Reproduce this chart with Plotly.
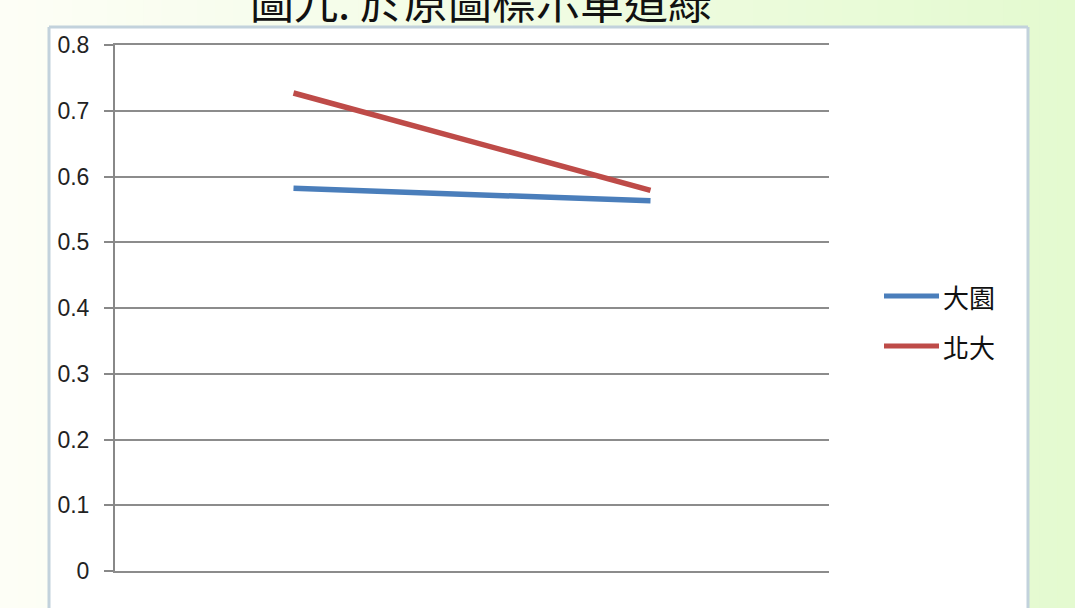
import plotly.graph_objects as go

# Two survey rounds, one line per school
periods = [0, 1]
series_names = ["大園", "北大"]
series_values = [
    [0.582, 0.563],
    [0.727, 0.579],
]
series_colors = ["#4A7EBB", "#BE4B48"]
y_ticks = [0, 0.1, 0.2, 0.3, 0.4, 0.5, 0.6, 0.7, 0.8]
title_text = "圖九. 於原圖標示單道綠"

W, H = 1075, 608

fig = go.Figure()
for name, vals, col in zip(series_names, series_values, series_colors):
    fig.add_trace(go.Scatter(
        x=periods, y=vals, mode="lines", name=name,
        line=dict(color=col, width=5.5), showlegend=False,
    ))

shapes = []

# soft green slide background, fading to the right
n_strips = 60
c0 = (253, 254, 246)
c1 = (228, 250, 208)
for i in range(n_strips):
    t = i / (n_strips - 1)
    c = tuple(round(a + (b - a) * t) for a, b in zip(c0, c1))
    shapes.append(dict(
        type="rect", xref="paper", yref="paper", layer="below",
        x0=i / n_strips, x1=min(1.0, (i + 1) / n_strips + 0.001), y0=0, y1=1,
        fillcolor="rgb(%d,%d,%d)" % c, line=dict(width=0),
    ))

# white chart area with a pale frame on three sides
fx0, fx1, fy1 = 49 / W, 1028 / W, 1 - 27 / H
shapes.append(dict(
    type="rect", xref="paper", yref="paper", layer="below",
    x0=fx0, x1=fx1, y0=0, y1=fy1,
    fillcolor="white", line=dict(width=0),
))
frame_line = dict(color="#C2D2DC", width=3)
for x0, y0, x1, y1 in [(fx0, 0, fx0, fy1), (fx0, fy1, fx1, fy1), (fx1, 0, fx1, fy1)]:
    shapes.append(dict(
        type="line", xref="paper", yref="paper", layer="below",
        x0=x0, y0=y0, x1=x1, y1=y1, line=frame_line,
    ))

# legend drawn as line samples with labels
annotations = []
legend_y = [1 - 296 / H, 1 - 346 / H]
for name, col, ly in zip(series_names, series_colors, legend_y):
    shapes.append(dict(
        type="line", xref="paper", yref="paper",
        x0=884 / W, x1=939 / W, y0=ly, y1=ly,
        line=dict(color=col, width=5),
    ))
    annotations.append(dict(
        xref="paper", yref="paper", x=941 / W, y=ly,
        xanchor="left", yanchor="middle", text=name, showarrow=False,
        font=dict(family="Noto Sans CJK TC", size=26, color="#111"),
    ))

# slide heading, partly above the top edge
annotations.append(dict(
    xref="paper", yref="paper", x=481 / W, y=1.0,
    xanchor="center", yanchor="middle", text=title_text, showarrow=False,
    font=dict(family="Noto Sans CJK TC", size=44, color="#111"),
))

fig.update_layout(
    width=W, height=H,
    margin=dict(l=0, r=0, t=0, b=0, pad=0),
    paper_bgcolor="white",
    plot_bgcolor="rgba(0,0,0,0)",
    shapes=shapes,
    annotations=annotations,
    xaxis=dict(
        domain=[115 / W, 829 / W], range=[-0.5, 1.5],
        showticklabels=False, showgrid=False, zeroline=False,
        showline=True, mirror=True, linecolor="#8C8C8C", linewidth=1.5,
        ticks="", fixedrange=True, automargin=False,
    ),
    yaxis=dict(
        domain=[1 - 571 / H, 1 - 45 / H], range=[0, 0.8],
        tickvals=y_ticks, ticks="outside", ticklen=9, tickwidth=1.5,
        tickcolor="#888888", showgrid=True, gridcolor="#8C8C8C",
        gridwidth=1.5, zeroline=False, showline=True, linecolor="#888888",
        linewidth=2, ticklabelstandoff=10, automargin=False,
        tickfont=dict(family="Liberation Sans", size=23, color="#222"),
    ),
)

fig.write_html("out.html")
